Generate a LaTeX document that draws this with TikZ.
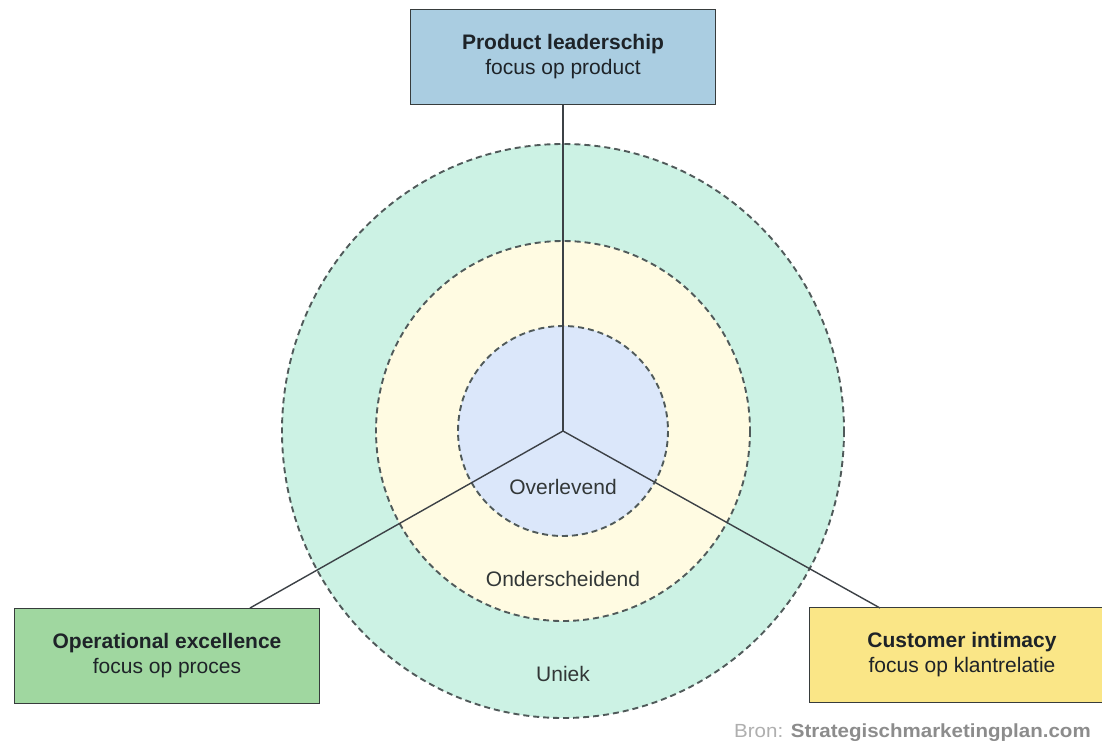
\documentclass[tikz,border=0pt]{standalone}
\usepackage{fontspec}
\setmainfont{Liberation Sans}
\newfontfamily\srcfont[FakeStretch=1.08]{Liberation Sans}
\begin{document}
\begin{tikzpicture}[x=1pt,y=-1pt,
  ring/.style={draw=ringline, line width=1.9pt, dash pattern=on 6pt off 4pt},
  boxstyle/.style={draw=boxline, line width=1.5pt, minimum width=305pt, minimum height=95pt, align=center, inner sep=0pt, font=\fontsize{21}{25}\selectfont, text=boxtext},
  conn/.style={draw=connline, line width=1.4pt},
  lbl/.style={font=\fontsize{21}{23}\selectfont, text=labeltext}
]
\definecolor{ringline}{RGB}{80,90,90}
\definecolor{boxline}{RGB}{55,60,60}
\definecolor{boxtext}{RGB}{30,35,40}
\definecolor{connline}{RGB}{60,65,70}
\definecolor{outerfill}{RGB}{204,242,228}
\definecolor{midfill}{RGB}{255,251,226}
\definecolor{innerfill}{RGB}{219,231,250}
\definecolor{bluebox}{RGB}{170,205,225}
\definecolor{greenbox}{RGB}{160,215,160}
\definecolor{yellowbox}{RGB}{250,230,135}
\definecolor{labeltext}{RGB}{50,55,55}
\definecolor{srclight}{RGB}{175,175,175}
\definecolor{srcdark}{RGB}{140,140,140}
\useasboundingbox (0,0) rectangle (1102,744);
\fill[white] (0,0) rectangle (1102,744);

\coordinate (c) at (563,431);
\draw[ring, fill=outerfill] (c) ellipse [x radius=281, y radius=287];
\draw[ring, fill=midfill] (c) ellipse [x radius=187, y radius=190];
\draw[ring, fill=innerfill] (c) ellipse [x radius=105, y radius=105];

\node[boxstyle, fill=bluebox] (top) at (563,57) {\textbf{Product leaderschip}\\focus op product};
\node[boxstyle, fill=greenbox] (left) at (167,656) {\textbf{Operational excellence}\\focus op proces};
\node[boxstyle, fill=yellowbox] (right) at (962,655) {\textbf{Customer intimacy}\\focus op klantrelatie};

\coordinate (lt) at (250,608);
\coordinate (rt) at (880,608);
\draw[conn] (c) -- (top.south);
\draw[conn] (c) -- (lt);
\draw[conn] (c) -- (rt);

\node[lbl] (ov) at (563,487) {Overlevend};
\node[lbl] (on) at (563,579) {Onderscheidend};
\node[lbl] (un) at (563,674) {Uniek};

\node[anchor=base west, inner sep=0pt, font=\srcfont\fontsize{19}{22}\selectfont] (src) at (734,737) {\textcolor{srclight}{Bron:} \textcolor{srcdark}{\textbf{Strategischmarketingplan.com}}};
\end{tikzpicture}
\end{document}
